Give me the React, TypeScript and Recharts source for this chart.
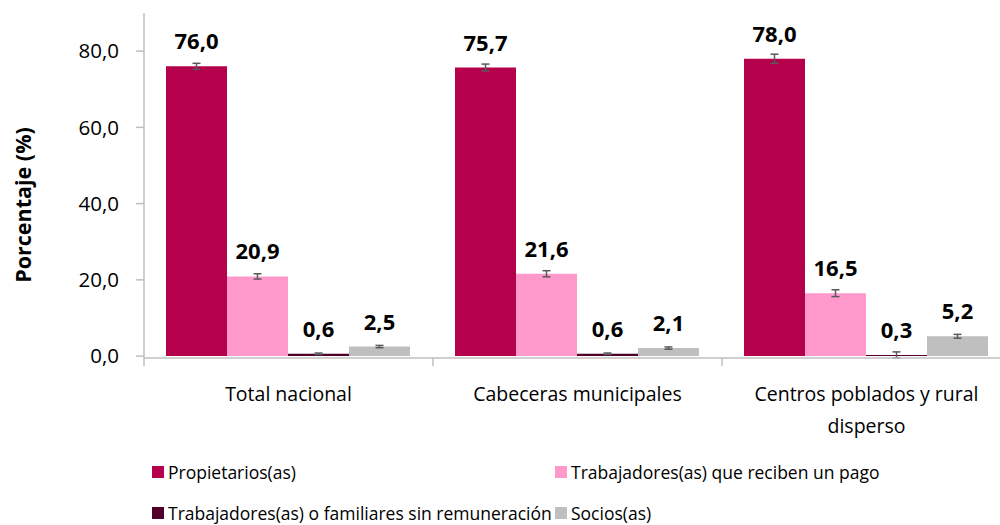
import React from 'react';
import { BarChart, Bar, XAxis, YAxis, ErrorBar, LabelList } from 'recharts';

const categories = ['Total nacional', 'Cabeceras municipales', 'Centros poblados y rural disperso'];

const propietarios = [76.0, 75.7, 78.0];
const trabPago = [20.9, 21.6, 16.5];
const trabSinRem = [0.6, 0.6, 0.3];
const socios = [2.5, 2.1, 5.2];

// error margins (approx. from the picture)
const errPropietarios = [0.8, 0.9, 1.2];
const errTrabPago = [0.7, 0.8, 0.9];
const errTrabSinRem = [0.2, 0.2, 0.8];
const errSocios = [0.3, 0.3, 0.5];

const yTicks = [0, 20, 40, 60, 80];

const series = [
  { key: 'propietarios', name: 'Propietarios(as)', color: '#b5004b' },
  { key: 'trabPago', name: 'Trabajadores(as) que reciben un pago', color: '#ff99cc' },
  { key: 'trabSinRem', name: 'Trabajadores(as) o familiares sin remuneración', color: '#520029' },
  { key: 'socios', name: 'Socios(as)', color: '#bfbfbf' },
];

const data = categories.map((c, i) => ({
  name: c,
  propietarios: propietarios[i],
  trabPago: trabPago[i],
  trabSinRem: trabSinRem[i],
  socios: socios[i],
  propietariosErr: errPropietarios[i],
  trabPagoErr: errTrabPago[i],
  trabSinRemErr: errTrabSinRem[i],
  sociosErr: errSocios[i],
}));

const FONT = '"Open Sans", "Noto Sans", sans-serif';
const AXIS = '#bfbfbf';

const fmt = (v: any) => Number(v).toFixed(1).replace('.', ',');

const wrap = (text: string, max: number) => {
  const words = text.split(' ');
  const lines: string[] = [];
  let cur = '';
  words.forEach((w) => {
    const next = cur ? cur + ' ' + w : w;
    if (next.length > max && cur) {
      lines.push(cur);
      cur = w;
    } else {
      cur = next;
    }
  });
  if (cur) lines.push(cur);
  return lines;
};

const CategoryTick = (props: any) => {
  const { x, y, payload, index } = props;
  const half = payload && payload.offset ? payload.offset : 144.5;
  const lines = wrap(String(payload.value), 25);
  return (
    <g>
      <line x1={x - half} y1={y - 8} x2={x - half} y2={y} stroke={AXIS} strokeWidth={1.5} />
      {index === categories.length - 1 && (
        <line x1={x + half} y1={y - 8} x2={x + half} y2={y} stroke={AXIS} strokeWidth={1.5} />
      )}
      {lines.map((l, i) => (
        <text key={i} x={x} y={y + 35 + i * 32} textAnchor="middle" fontSize={19.5} fill="#000" fontFamily={FONT}>
          {l}
        </text>
      ))}
    </g>
  );
};

const YTitle = () => {
  const cx = 31;
  const cy = 205;
  return (
    <text x={cx} y={cy} transform={`rotate(-90, ${cx}, ${cy})`} textAnchor="middle" fontSize={21.5} fontWeight="bold" fontFamily={FONT} fill="#000">
      Porcentaje (%)
    </text>
  );
};

export default function App() {
  return (
    <div style={{ position: 'fixed', left: 0, top: 0, width: 1000, height: 525, overflow: 'hidden', background: '#fff', fontFamily: FONT }}>
      <BarChart
        width={1040}
        height={525}
        data={data}
        margin={{ top: 13, right: 29, left: 84, bottom: 107 }}
        barCategoryGap={22}
        barGap={0}
      >
        <XAxis
          dataKey="name"
          height={60}
          axisLine={{ stroke: AXIS, strokeWidth: 1.5 }}
          tickLine={false}
          tick={<CategoryTick />}
          interval={0}
        />
        <YAxis
          width={60}
          domain={[0, 90]}
          ticks={yTicks}
          tickFormatter={fmt}
          axisLine={{ stroke: AXIS, strokeWidth: 1.5 }}
          tickLine={{ stroke: AXIS, strokeWidth: 1.5 }}
          tickSize={8}
          tickMargin={17}
          tick={{ fontSize: 20.5, fill: '#000', fontFamily: FONT }}
          label={<YTitle />}
        />
        {series.map((s) => (
          <Bar key={s.key} dataKey={s.key} name={s.name} fill={s.color} isAnimationActive={false}>
            <ErrorBar dataKey={s.key + 'Err'} width={4} stroke="#595959" strokeWidth={1.5} direction="y" />
            <LabelList
              dataKey={s.key}
              position="top"
              offset={17}
              formatter={fmt}
              style={{ fontSize: 22, fontWeight: 'bold', fill: '#000', fontFamily: FONT }}
            />
          </Bar>
        ))}
      </BarChart>
      <div style={{ position: 'absolute', left: 152, top: 460, width: 848, display: 'grid', gridTemplateColumns: '403px 445px', rowGap: 17, fontSize: 17.5, color: '#000' }}>
        {series.map((s) => (
          <div key={s.key} style={{ display: 'flex', alignItems: 'center', height: 24, whiteSpace: 'nowrap' }}>
            <span style={{ width: 12, height: 12, background: s.color, marginRight: 4, display: 'inline-block', flexShrink: 0 }} />
            <span>{s.name}</span>
          </div>
        ))}
      </div>
    </div>
  );
}
